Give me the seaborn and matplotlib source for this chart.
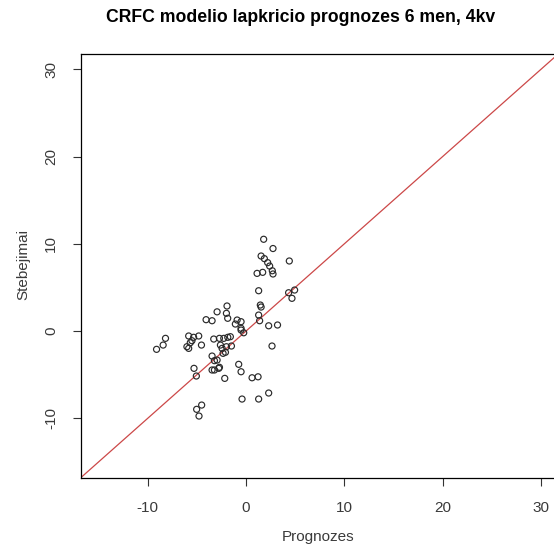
import matplotlib
matplotlib.use("Agg")
import matplotlib.pyplot as plt
import seaborn as sns
import pandas as pd

# Forecast (Prognozes) vs observed (Stebejimai) values
prognozes = [
    1.79, 2.74, 1.53, 1.86, 2.20, 2.40, 4.40, 1.12, 1.69, 2.67,
    2.74, 1.28, 4.33, 4.94, 4.67, 1.45, 1.53, -1.94, -2.00, -1.87,
    1.28, -0.91, -0.51, -1.09, 1.38, 2.30, 3.20, -0.51, -2.95, -4.07,
    -3.46, -8.20, -8.44, -9.11, -5.84, -5.34, -4.82, -5.51, -5.68, -6.02,
    -5.84, -4.54, -3.29, -2.71, -2.27, -1.86, -2.61, -2.44, -2.00, -2.10,
    -2.34, -3.46, -2.95, -3.22, -2.71, -3.46, -3.22, -2.78, -5.30, -5.06,
    -2.17, -5.03, -4.52, -4.79, -0.51, -0.24, -1.49, -0.75, -0.51, 0.61,
    1.22, -0.41, 1.28, 2.30, 2.64, -1.60,
]
stebejimai = [
    10.52, 9.46, 8.60, 8.30, 7.84, 7.45, 8.03, 6.61, 6.73, 6.91,
    6.54, 4.62, 4.39, 4.70, 3.75, 2.98, 2.75, 2.87, 2.03, 1.46,
    1.83, 1.26, 1.07, 0.80, 1.18, 0.60, 0.69, 0.31, 2.20, 1.30,
    1.18, -0.84, -1.61, -2.10, -0.57, -0.72, -0.57, -1.11, -1.34, -1.80,
    -1.99, -1.61, -0.92, -0.84, -0.84, -0.72, -1.61, -1.99, -1.80, -2.44,
    -2.56, -2.87, -3.33, -3.40, -4.16, -4.47, -4.47, -4.28, -4.28, -5.16,
    -5.43, -8.98, -8.49, -9.75, 0.11, -0.20, -1.72, -3.82, -4.67, -5.36,
    -5.25, -7.80, -7.80, -7.11, -1.72, -0.65,
]
ticks = [-10, 0, 10, 20, 30]
limits = (-16.8, 31.8)

df = pd.DataFrame({"Prognozes": prognozes, "Stebejimai": stebejimai})

sns.set_style("white")
plt.rcParams["font.family"] = ["Liberation Sans", "DejaVu Sans"]

fig = plt.figure(figsize=(5.54, 5.48), dpi=100)
ax = fig.add_axes([0.1462, 0.1286, 0.862, 0.7734])

sns.scatterplot(data=df, x="Prognozes", y="Stebejimai", ax=ax,
                marker="o", s=19, facecolor="none", edgecolor="#2a2a2a",
                linewidth=0.85, zorder=3)
ax.axline((0, 0), slope=1, color="#cc4848", linewidth=0.9, zorder=2)

ax.set_xlim(limits)
ax.set_ylim(limits)
ax.set_xticks(ticks)
ax.set_yticks(ticks)
ax.set_xticklabels([str(t) for t in ticks])
ax.set_yticklabels([str(t) for t in ticks], rotation=90, va="center")
ax.tick_params(axis="both", direction="out", length=5.5, width=0.8,
               color="#333333", labelsize=11, labelcolor="#3a3a3a",
               bottom=True, left=True)
ax.tick_params(axis="x", pad=11.5)
ax.tick_params(axis="y", pad=11)
for sp in ax.spines.values():
    sp.set_visible(True)
    sp.set_color("black")
    sp.set_linewidth(0.9)

ax.set_xlabel("")
ax.set_ylabel("")
fig.text(318 / 554, 1 - 537 / 548, "Prognozes", ha="center", va="center",
         fontsize=11, color="#3a3a3a")
fig.text(23 / 554, 1 - 264 / 548, "Stebejimai", ha="center", va="center",
         rotation=90, fontsize=11, color="#3a3a3a")
fig.text(301 / 554, 1 - 17 / 548, "CRFC modelio lapkricio prognozes 6 men, 4kv",
         ha="center", va="center", fontsize=12.7, fontweight="bold", color="black")

fig.savefig("out.png", dpi=100)
